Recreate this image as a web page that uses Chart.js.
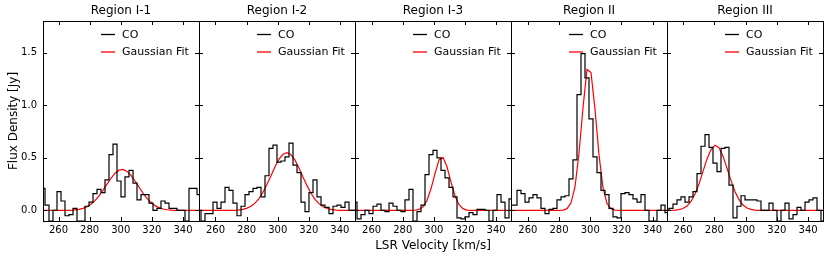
<!DOCTYPE html>
<html>
<head>
<meta charset="utf-8">
<script src="https://cdn.jsdelivr.net/npm/chart.js"></script>
<style>
  body { margin: 0; background: #fff; }
  #wrap { position: relative; width: 830px; height: 259px; }
  #wrap canvas { position: absolute; left: 0; top: 0; }
</style>
</head>
<body>
<div id="wrap"></div>
<script>
// panel titles and velocity span of each panel (km/s)
const panelTitles = ["Region I-1", "Region I-2", "Region I-3", "Region II", "Region III"];
const velocityRanges = [
  [250.0, 350.3],
  [249.4, 349.7],
  [249.3, 349.6],
  [249.2, 349.2],
  [249.7, 349.5]
];

// CO spectra, 40 channels per panel (Jy)
const coI1 = [0.21, 0.05, -0.1, 0.0, 0.18, 0.09, -0.05, -0.04, 0.02, -0.1,
  -0.1, 0.04, 0.08, 0.16, 0.2, 0.17, 0.29, 0.53, 0.63, 0.28,
  0.13, 0.32, 0.38, 0.26, 0.1, 0.15, 0.15, 0.07, 0.0, 0.02,
  0.09, 0.07, 0.02, 0.02, 0.0, 0.0, -0.1, 0.21, 0.21, 0.15];
const coI2 = [0.0, -0.1, -0.03, -0.03, 0.08, 0.02, 0.08, 0.22, 0.19, 0.07,
  -0.05, 0.04, 0.15, 0.18, 0.21, 0.22, 0.13, 0.33, 0.59, 0.62,
  0.46, 0.47, 0.51, 0.64, 0.43, 0.36, 0.08, -0.01, 0.17, 0.29,
  0.13, 0.05, 0.03, -0.03, 0.04, 0.05, 0.03, 0.08, 0.0, 0.0];
const coI3 = [0.08, -0.08, -0.04, 0.0, -0.03, 0.04, 0.06, 0.0, -0.01, 0.07,
  0.04, 0.0, -0.01, 0.1, 0.2, -0.1, -0.01, 0.05, 0.34, 0.53,
  0.57, 0.5, 0.38, 0.31, 0.22, 0.13, -0.07, -0.08, -0.06, -0.02,
  -0.04, 0.01, 0.01, 0.0, -0.1, 0.0, 0.15, 0.08, -0.07, 0.11];
const coII = [0.05, 0.05, 0.19, 0.16, 0.08, 0.12, 0.15, 0.12, 0.02, -0.03,
  0.01, 0.02, 0.1, 0.13, 0.14, 0.3, 0.48, 1.1, 1.49, 1.26,
  0.87, 0.51, 0.36, 0.19, 0.15, 0.02, -0.06, -0.07, 0.16, 0.17,
  0.15, 0.11, 0.08, 0.15, 0.0, -0.1, -0.1, 0.0, 0.05, -0.02];
const coIII = [0.0, 0.02, 0.06, 0.1, 0.13, 0.08, 0.13, 0.18, 0.35, 0.61,
  0.72, 0.6, 0.45, 0.37, 0.59, 0.6, 0.24, -0.07, 0.04, 0.14,
  0.1, 0.1, 0.1, 0.09, 0.0, 0.0, 0.07, 0.0, -0.1, 0.0,
  0.07, -0.08, -0.04, 0.03, 0.0, 0.08, 0.1, 0.12, 0.0, -0.1];

// gaussian fit curves, same channels
const fitI1 = [0, 0, 0, 0, 0, 0, 0, 0, 0.005, 0.01,
  0.02, 0.035, 0.059, 0.093, 0.138, 0.191, 0.25, 0.306, 0.354, 0.383,
  0.39, 0.371, 0.334, 0.28, 0.223, 0.165, 0.114, 0.075, 0.046, 0.027,
  0.014, 0.007, 0.004, 0, 0, 0, 0, 0, 0, 0];
const fitI2 = [0, 0, 0, 0, 0, 0, 0, 0, 0, 0,
  0.005, 0.011, 0.022, 0.04, 0.07, 0.113, 0.173, 0.249, 0.33, 0.415,
  0.488, 0.534, 0.55, 0.529, 0.478, 0.403, 0.317, 0.236, 0.163, 0.105,
  0.065, 0.036, 0.019, 0.01, 0.005, 0, 0, 0, 0, 0];
const fitI3 = [0, 0, 0, 0, 0, 0, 0, 0, 0, 0,
  0, 0, 0, 0, 0, 0.002, 0.01, 0.034, 0.095, 0.206,
  0.35, 0.48, 0.505, 0.415, 0.27, 0.138, 0.055, 0.017, 0.004, 0,
  0, 0, 0, 0, 0, 0, 0, 0, 0, 0];
const fitII = [0, 0, 0, 0, 0, 0, 0, 0, 0, 0,
  0, 0, 0, 0.003, 0.017, 0.073, 0.225, 0.544, 0.976, 1.34,
  1.31, 0.96, 0.528, 0.216, 0.066, 0.016, 0.003, 0, 0, 0,
  0, 0, 0, 0, 0, 0, 0, 0, 0, 0];
const fitIII = [0, 0, 0.003, 0.008, 0.019, 0.042, 0.086, 0.157, 0.252, 0.371,
  0.49, 0.579, 0.62, 0.597, 0.516, 0.401, 0.284, 0.178, 0.103, 0.052,
  0.024, 0.01, 0.004, 0, 0, 0, 0, 0, 0, 0,
  0, 0, 0, 0, 0, 0, 0, 0, 0, 0];

const coSeries = [coI1, coI2, coI3, coII, coIII];
const fitSeries = [fitI1, fitI2, fitI3, fitII, fitIII];

const xTicks = [260, 280, 300, 320, 340];
const yTicks = [0, 0.5, 1.0, 1.5];
const yRange = [-0.1, 1.8];

const FONT = "'DejaVu Sans', sans-serif";
const W = 830, H = 259;
const PANEL_LEFT = 43, PANEL_W = 156;

// frame, inward ticks and the little legend (matplotlib classic look)
const framePlugin = {
  id: "frame",
  afterDatasetsDraw(chart) {
    const { ctx, chartArea: a, scales: { x, y } } = chart;
    ctx.save();
    ctx.strokeStyle = "#000";
    ctx.lineWidth = 1;
    ctx.strokeRect(a.left + 0.5, a.top + 0.5, a.right - a.left, a.bottom - a.top);

    ctx.beginPath();
    xTicks.forEach(v => {
      const px = Math.round(x.getPixelForValue(v)) + 0.5;
      ctx.moveTo(px, a.bottom); ctx.lineTo(px, a.bottom - 4);
      ctx.moveTo(px, a.top); ctx.lineTo(px, a.top + 4);
    });
    yTicks.forEach(v => {
      const py = Math.round(y.getPixelForValue(v)) + 0.5;
      ctx.moveTo(a.left, py); ctx.lineTo(a.left + 4, py);
      ctx.moveTo(a.right, py); ctx.lineTo(a.right - 4, py);
    });
    ctx.stroke();

    // legend
    const items = [["CO", "#000000", 13.5], ["Gaussian Fit", "#ff0000", 31]];
    ctx.font = "11px " + FONT;
    ctx.textBaseline = "middle";
    ctx.textAlign = "left";
    items.forEach(([label, color, dy]) => {
      ctx.strokeStyle = color;
      ctx.lineWidth = 1.3;
      ctx.beginPath();
      ctx.moveTo(a.right - 98, a.top + dy);
      ctx.lineTo(a.right - 84, a.top + dy);
      ctx.stroke();
      ctx.fillStyle = "#000";
      ctx.fillText(label, a.right - 77, a.top + dy + 0.5);
    });
    ctx.restore();
  }
};

const wrap = document.getElementById("wrap");

panelTitles.forEach((title, k) => {
  const [vLo, vHi] = velocityRanges[k];
  const co = coSeries[k];
  const fit = fitSeries[k];
  // channel velocities across the panel
  const step = (vHi - vLo) / (co.length - 1);
  const vel = co.map((_, i) => vLo + i * step);

  const left = PANEL_LEFT + PANEL_W * k;
  const right = left + PANEL_W;

  const canvas = document.createElement("canvas");
  canvas.width = W;
  canvas.height = H;
  wrap.appendChild(canvas);

  new Chart(canvas.getContext("2d"), {
    type: "line",
    data: {
      datasets: [
        {
          label: "CO",
          data: co.map((v, i) => ({ x: vel[i], y: v })),
          stepped: "middle",
          borderColor: "#000000",
          borderWidth: 1.2,
          pointRadius: 0,
          fill: false
        },
        {
          label: "Gaussian Fit",
          data: fit.map((v, i) => ({ x: vel[i], y: v })),
          borderColor: "#ff0000",
          borderWidth: 1.2,
          pointRadius: 0,
          tension: 0,
          fill: false
        }
      ]
    },
    plugins: [framePlugin],
    options: {
      responsive: false,
      animation: false,
      events: [],
      layout: {
        padding: { left: k === 0 ? 0 : left, right: W - right, top: 0, bottom: 0 }
      },
      plugins: {
        legend: { display: false },
        tooltip: { enabled: false },
        title: {
          display: true,
          text: title,
          fullSize: false,
          color: "#000",
          font: { family: FONT, size: 12, weight: "normal" },
          padding: { top: 4, bottom: 2.6 }
        }
      },
      scales: {
        x: {
          type: "linear",
          min: vLo,
          max: vHi,
          afterBuildTicks: s => { s.ticks = xTicks.map(v => ({ value: v })); },
          afterFit: s => { s.height = 38; },
          grid: { display: false, drawTicks: false },
          border: { display: false },
          ticks: {
            color: "#000",
            font: { family: FONT, size: 10 },
            padding: 3,
            maxRotation: 0,
            autoSkip: false
          },
          title: {
            display: k === 2,
            text: "LSR Velocity [km/s]",
            color: "#000",
            font: { family: FONT, size: 12 },
            padding: { top: 0, bottom: 6 }
          }
        },
        y: {
          min: yRange[0],
          max: yRange[1],
          display: k === 0,
          afterBuildTicks: s => { s.ticks = yTicks.map(v => ({ value: v })); },
          afterFit: s => { s.width = k === 0 ? PANEL_LEFT : 0; },
          grid: { display: false, drawTicks: false },
          border: { display: false },
          ticks: {
            color: "#000",
            font: { family: FONT, size: 10 },
            padding: 6,
            callback: v => v.toFixed(1)
          },
          title: {
            display: true,
            text: "Flux Density [Jy]",
            color: "#000",
            font: { family: FONT, size: 12 },
            padding: { top: 7, bottom: 0 }
          }
        }
      }
    }
  });
});
</script>
</body>
</html>
